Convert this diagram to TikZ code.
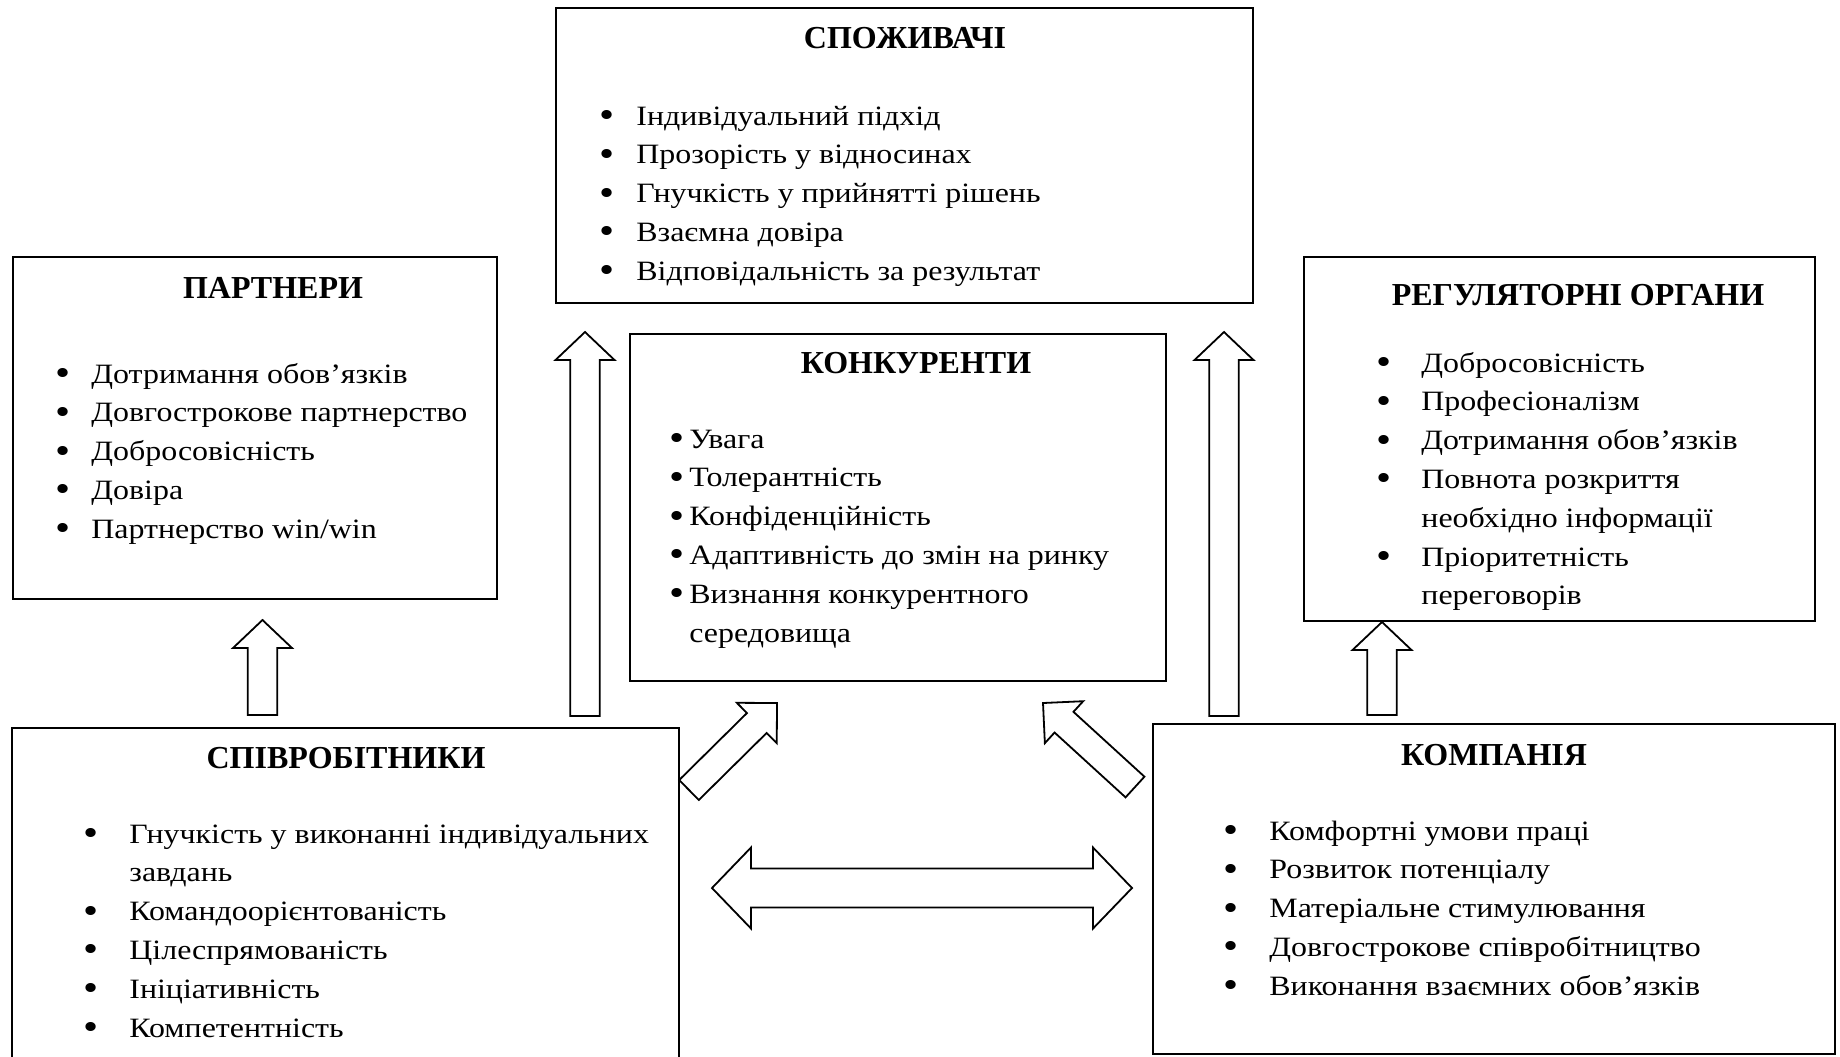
\documentclass[tikz,border=0pt]{standalone}
\usepackage{fontspec}
\setmainfont{Liberation Serif}
\newfontfamily\bodyfont[FakeStretch=1.14]{Liberation Serif}
\usetikzlibrary{calc,positioning}
\newcommand{\blist}[2]{\begin{tabular}[t]{@{}p{#1}@{}l@{}}#2\end{tabular}}
\newcommand{\bl}{\raisebox{-1.2pt}{\scalebox{1.35}{\textbullet}}&}

\begin{document}
\begin{tikzpicture}[x=0.5pt,y=-0.5pt,
  box/.style={draw,line width=1.1pt,inner sep=0pt},
  hd/.style={anchor=base,inner sep=0pt,font=\fontsize{16}{19}\selectfont\bfseries},
  lst/.style={anchor=base west,inner sep=0pt,font=\bodyfont\fontsize{14}{19.4}\selectfont},
  blockarr/.style n args={3}{line width=0.9pt,line join=miter,to path={let
    \p1=(\tikztostart),\p2=(\tikztotarget),
    \n1={atan2(\y2-\y1,\x2-\x1)},\n2={veclen(\x2-\x1,\y2-\y1)},
    \n3={\n2-#3},\n4={\n1+90} in
    ($(\p1)-(\n4:#1)$) -- ($(\p1)+(\n1:\n3)-(\n4:#1)$) -- ($(\p1)+(\n1:\n3)-(\n4:#2)$)
    -- (\p2) -- ($(\p1)+(\n1:\n3)+(\n4:#2)$) -- ($(\p1)+(\n1:\n3)+(\n4:#1)$)
    -- ($(\p1)+(\n4:#1)$) -- cycle}},
  blockarrb/.style n args={3}{line width=0.9pt,line join=miter,to path={let
    \p1=(\tikztostart),\p2=(\tikztotarget),
    \n1={atan2(\y2-\y1,\x2-\x1)},\n2={veclen(\x2-\x1,\y2-\y1)},
    \n3={\n2-#3},\n4={\n1+90} in
    (\p1) -- ($(\p1)+(\n1:#3)-(\n4:#2)$) -- ($(\p1)+(\n1:#3)-(\n4:#1)$)
    -- ($(\p1)+(\n1:\n3)-(\n4:#1)$) -- ($(\p1)+(\n1:\n3)-(\n4:#2)$) -- (\p2)
    -- ($(\p1)+(\n1:\n3)+(\n4:#2)$) -- ($(\p1)+(\n1:\n3)+(\n4:#1)$)
    -- ($(\p1)+(\n1:#3)+(\n4:#1)$) -- ($(\p1)+(\n1:#3)+(\n4:#2)$) -- cycle}},
  uparr/.style={blockarr={7.4pt}{14.75pt}{14pt}},
  diagarr/.style={blockarr={7pt}{14.2pt}{14.2pt}},
  botharr/.style={blockarrb={9.75pt}{20.25pt}{19.5pt}}]
\path[use as bounding box,clip] (0,0) rectangle (1840,1056);
\node[box,minimum width=348.5pt,minimum height=147.5pt] (spoz) at (904.5,155.5) {};
\node[box,minimum width=242pt,minimum height=171pt] (partn) at (255,428) {};
\node[box,minimum width=268pt,minimum height=173.5pt] (konk) at (898,507.5) {};
\node[box,minimum width=255.5pt,minimum height=182pt] (regul) at (1559.5,439) {};
\node[box,minimum width=333.5pt,minimum height=176pt] (spivr) at (345.5,904) {};
\node[box,minimum width=341pt,minimum height=165pt] (komp) at (1494,889) {};
\node[hd] (spoz-h) at (905,48) {СПОЖИВАЧІ};
\node[hd] (partn-h) at (273,298) {ПАРТНЕРИ};
\node[hd] (konk-h) at (916,373) {КОНКУРЕНТИ};
\node[hd] (regul-h) at (1578,305) {РЕГУЛЯТОРНІ ОРГАНИ};
\node[hd] (spivr-h) at (346,768) {СПІВРОБІТНИКИ};
\node[hd] (komp-h) at (1494,765) {КОМПАНІЯ};
\node[lst] (spoz-l) at (599,125) {\blist{18.5pt}{\bl Індивідуальний підхід\\
  \bl Прозорість у відносинах\\ \bl Гнучкість у прийнятті рішень\\
  \bl Взаємна довіра\\ \bl Відповідальність за результат}};
\node[lst] (partn-l) at (55,383) {\blist{18pt}{\bl Дотримання обов’язків\\
  \bl Довгострокове партнерство\\ \bl Добросовісність\\ \bl Довіра\\
  \bl Партнерство win/win}};
\node[lst] (konk-l) at (669,448) {\blist{10pt}{\bl Увага\\ \bl Толерантність\\
  \bl Конфіденційність\\ \bl Адаптивність до змін на ринку\\
  \bl Визнання конкурентного\\ & середовища}};
\node[lst] (regul-l) at (1376,372) {\blist{22.5pt}{\bl Добросовісність\\
  \bl Професіоналізм\\ \bl Дотримання обов’язків\\ \bl Повнота розкриття\\
  & необхідно інформації\\ \bl Пріоритетність\\ & переговорів}};
\node[lst] (spivr-l) at (83,843) {\blist{23pt}{\bl Гнучкість у виконанні індивідуальних\\
  & завдань\\ \bl Командоорієнтованість\\ \bl Цілеспрямованість\\
  \bl Ініціативність\\ \bl Компетентність}};
\node[lst] (komp-l) at (1223,840) {\blist{23pt}{\bl Комфортні умови праці\\
  \bl Розвиток потенціалу\\ \bl Матеріальне стимулювання\\
  \bl Довгострокове співробітництво\\ \bl Виконання взаємних обов’язків}};
\coordinate (a1s) at (262.5,715);  \coordinate (a1e) at (262.5,620);
\coordinate (a2s) at (585,716);    \coordinate (a2e) at (585,332);
\coordinate (a3s) at (1224,716);   \coordinate (a3e) at (1224,332);
\coordinate (a4s) at (1382,715);   \coordinate (a4e) at (1382,622);
\coordinate (a5s) at (689,790);    \coordinate (a5e) at (777,703);
\coordinate (a6s) at (1135,787);   \coordinate (a6e) at (1043,703);
\coordinate (a7s) at (712,888);    \coordinate (a7e) at (1132,888);
\draw[uparr] (a1s) to (a1e);
\draw[uparr] (a2s) to (a2e);
\draw[uparr] (a3s) to (a3e);
\draw[uparr] (a4s) to (a4e);
\draw[diagarr] (a5s) to (a5e);
\draw[diagarr] (a6s) to (a6e);
\draw[botharr] (a7s) to (a7e);
\end{tikzpicture}
\end{document}
